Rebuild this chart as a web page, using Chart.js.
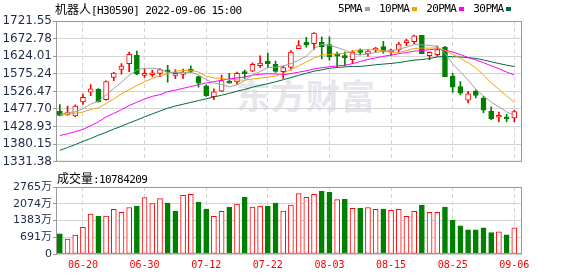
<!DOCTYPE html>
<html>
<head>
<meta charset="utf-8">
<script src="https://cdn.jsdelivr.net/npm/chart.js@4"></script>
<style>
  body { margin: 0; width: 578px; height: 276px; background: #fff; position: relative; overflow: hidden; }
  canvas { position: absolute; left: 0; z-index: 1; }
  #priceChart { top: 0; }
  #volChart { top: 170px; }
  .txt { position: absolute; z-index: 2; white-space: nowrap; color: #000;
         font-family: "DejaVu Sans Mono", monospace; font-size: 11px; letter-spacing: -0.6px; line-height: 14px; }
  .cjk { font-family: "Noto Sans CJK SC", sans-serif; font-size: 12px; letter-spacing: 0; }
  .legend { display: flex; align-items: center; }
  .legend i { display: inline-block; width: 5px; height: 4px; margin: 0 9px 0 3px; }
  #watermark { position: absolute; left: 236px; top: 70px; z-index: 0; color: #e6e6ec;
               font-family: "Noto Sans CJK SC", sans-serif; font-weight: bold; font-size: 34px; letter-spacing: 1px; }
</style>
</head>
<body>
<div id="watermark">东方财富</div>
<canvas id="priceChart" width="578" height="170"></canvas>
<canvas id="volChart" width="578" height="106"></canvas>
<div class="txt" style="left:55px;top:2px"><span class="cjk">机器人</span>[H30590] 2022-09-06 15:00</div>
<div class="txt legend" id="legend" style="left:338px;top:2px"></div>
<div class="txt" style="left:57px;top:171px"><span class="cjk">成交量</span>:10784209</div>
<script>
const dates = ['06-15','06-16','06-17','06-20','06-21','06-22','06-23','06-24','06-27','06-28',
  '06-29','06-30','07-01','07-04','07-05','07-06','07-07','07-08','07-11','07-12',
  '07-13','07-14','07-15','07-18','07-19','07-20','07-21','07-22','07-25','07-26',
  '07-27','07-28','07-29','08-01','08-02','08-03','08-04','08-05','08-08','08-09',
  '08-10','08-11','08-12','08-15','08-16','08-17','08-18','08-19','08-22','08-23',
  '08-24','08-25','08-26','08-29','08-30','08-31','09-01','09-02','09-05','09-06'];
const tickDates = ['06-20','06-30','07-12','07-22','08-03','08-15','08-25','09-06'];

const opens = [1471.1,1462.0,1458.4,1497.4,1524.6,1531.9,1503.8,1565.4,1587.2,1603.5,
  1626.2,1570.9,1572.7,1576.3,1584.5,1571.0,1573.5,1587.2,1567.2,1541.8,
  1511.9,1527.3,1553.6,1552.7,1580.8,1582.7,1598.1,1610.8,1601.7,1580.8,
  1592.6,1645.2,1662.5,1658.8,1662.5,1656.1,1626.0,1623.5,1614.4,1638.0,
  1630.7,1640.7,1650.7,1636.2,1641.6,1661.6,1664.3,1681.5,1625.3,1628.0,
  1648.9,1569.0,1540.0,1501.9,1526.4,1507.4,1472.0,1454.8,1453.9,1453.0];
const highs = [1490.1,1485.6,1489.2,1519.2,1545.5,1534.6,1555.5,1579.0,1603.5,1635.3,
  1638.0,1589.9,1585.4,1589.9,1599.0,1587.2,1588.0,1597.2,1569.0,1544.6,
  1533.7,1571.8,1576.3,1580.0,1585.4,1605.3,1625.3,1632.5,1610.8,1596.3,
  1639.8,1667.0,1676.1,1689.7,1677.9,1677.9,1635.3,1635.3,1639.8,1644.3,
  1641.6,1648.9,1665.2,1643.4,1662.5,1670.6,1682.4,1681.5,1636.2,1652.5,
  1651.6,1576.3,1553.6,1526.4,1531.0,1512.8,1483.8,1469.3,1462.9,1474.7];
const lows = [1458.4,1460.2,1455.7,1490.2,1514.6,1496.5,1502.0,1556.4,1574.5,1580.8,
  1573.0,1565.4,1567.2,1567.2,1551.8,1561.8,1562.7,1578.1,1538.2,1512.8,
  1503.8,1525.5,1549.1,1545.5,1562.7,1580.8,1592.6,1591.7,1579.0,1562.7,
  1585.4,1645.2,1648.9,1642.5,1616.2,1612.6,1594.4,1597.2,1603.5,1628.9,
  1623.5,1633.5,1632.5,1626.2,1635.3,1653.4,1657.9,1630.7,1614.4,1623.5,
  1567.2,1523.7,1517.4,1494.7,1508.3,1467.5,1448.4,1442.1,1442.1,1442.1];
const closes = [1460.2,1467.5,1485.6,1510.1,1533.7,1498.3,1553.6,1577.2,1596.3,1628.9,
  1574.5,1575.0,1578.1,1587.2,1580.0,1573.0,1575.5,1581.8,1549.1,1514.6,
  1525.5,1556.4,1549.1,1576.3,1575.5,1601.7,1605.0,1603.5,1581.8,1592.6,
  1635.3,1653.4,1656.1,1687.9,1650.7,1621.7,1624.0,1619.9,1635.3,1634.8,
  1638.0,1643.4,1637.1,1639.8,1657.9,1667.0,1680.6,1630.7,1634.4,1642.5,
  1567.2,1538.2,1521.9,1520.0,1515.5,1474.7,1451.1,1456.6,1450.2,1470.2];

// volume in 万
const volumes = [831,613,776,1103,1648,1566,1566,1839,1716,1920,
  1975,2329,2084,2288,2098,1771,2424,2465,2138,1852,
  1553,1757,1934,2057,2343,1934,1975,1975,2098,1771,
  2016,2493,2343,2465,2588,2547,2247,2261,1880,1893,
  1920,1839,1852,1798,1839,1553,1757,2016,1716,1716,
  1934,1403,1158,994,994,1076,885,913,790,1078];

const ma5 = [1463.0,1467.0,1470.0,1478.0,1491.4,1499.0,1516.3,1534.6,1551.8,1570.9,
  1586.1,1590.4,1590.6,1588.7,1579.0,1578.6,1578.7,1579.5,1571.9,1558.9,
  1549.6,1545.5,1538.9,1544.4,1556.6,1571.8,1581.5,1592.4,1593.5,1596.9,
  1603.6,1613.3,1623.8,1645.1,1656.7,1654.0,1648.1,1640.8,1630.3,1627.1,
  1630.4,1634.3,1637.7,1638.6,1643.2,1649.0,1656.5,1655.2,1654.1,1651.0,
  1631.1,1602.6,1580.8,1558.0,1532.6,1514.1,1496.6,1483.6,1469.6,1460.6];
const ma10 = [1458.4,1463.0,1465.7,1469.3,1476.5,1481.0,1492.9,1505.6,1520.0,1531.1,
  1542.6,1553.3,1562.6,1570.3,1574.9,1582.4,1584.5,1585.0,1580.3,1568.9,
  1564.0,1562.1,1559.2,1558.1,1557.7,1560.6,1563.5,1565.7,1568.9,1576.7,
  1587.7,1597.4,1608.1,1619.3,1626.8,1628.8,1630.7,1632.3,1637.7,1641.9,
  1642.2,1641.2,1639.3,1634.5,1635.2,1639.7,1645.4,1646.5,1646.4,1647.1,
  1640.1,1629.5,1618.0,1606.0,1591.8,1572.6,1549.6,1532.2,1513.8,1496.6];
const ma20 = [1404.0,1409.4,1414.9,1421.2,1431.2,1442.1,1455.7,1465.7,1475.6,1487.4,
  1496.5,1505.6,1512.8,1517.4,1525.5,1530.0,1535.0,1540.0,1545.0,1550.0,
  1553.2,1557.7,1560.8,1564.1,1566.2,1571.4,1574.0,1575.3,1574.6,1572.8,
  1575.8,1579.7,1583.6,1588.6,1592.2,1594.7,1597.1,1599.0,1603.3,1609.3,
  1615.0,1619.3,1623.7,1626.9,1631.0,1634.3,1638.0,1639.4,1642.0,1644.5,
  1641.1,1635.4,1628.7,1620.3,1613.5,1606.1,1597.5,1589.3,1580.1,1571.9];
const ma30 = [1363,1371,1379,1388,1396,1405,1413,1422,1430,1439,
  1447,1456,1464,1472,1480,1486,1491,1496,1501,1506,
  1511,1516,1521,1527,1532,1538,1543,1548,1553,1558.9,
  1564.7,1570.9,1576.6,1582.5,1586.4,1590.5,1592.9,1594.3,1595.6,1595.8,
  1597.9,1600.2,1602.2,1603.9,1606.5,1609.7,1613.2,1614.8,1617.7,1621.9,
  1623.3,1622.7,1621.8,1619.9,1617.9,1613.7,1608.6,1603.7,1599.3,1595.2];

const priceTicks = [1331.38,1380.15,1428.93,1477.70,1526.47,1575.24,1624.01,1672.78,1721.55];
const volTicks = [0,691,1383,2074,2765];

const maNames = ['5PMA','10PMA','20PMA','30PMA'];
const maSeries = [ma5, ma10, ma20, ma30];
const maColors = ['#a0a0a0','#f5a30a','#ff00ff','#006b38'];

const RED = '#ff0000';
const GREEN = '#008000';
const GRID = '#d4d4d4';
const FRAME = '#9a9a9a';

const idx = dates.map((d, i) => i);
const tickIndex = tickDates.map(d => dates.indexOf(d));
const isUp = i => closes[i] >= opens[i];
const volUp = i => i === 0 ? isUp(0) : closes[i] >= closes[i - 1];

// legend: name then colour swatch
document.getElementById('legend').innerHTML = maNames.map((n, k) =>
  `<span>${n}</span><i style="background:${maColors[k]}"></i>`).join('');

const framePlugin = {
  id: 'frame',
  afterDraw(chart) {
    const { ctx, chartArea: a } = chart;
    ctx.save();
    ctx.strokeStyle = FRAME;
    ctx.lineWidth = 1;
    ctx.strokeRect(a.left + 0.5, a.top + 0.5, a.right - a.left - 1, a.bottom - a.top - 1);
    ctx.restore();
  }
};

function xScale(showLabels) {
  return {
    type: 'linear',
    bounds: 'data',
    min: -0.5,
    max: dates.length,
    offset: false,
    afterBuildTicks: s => { s.ticks = tickIndex.map(v => ({ value: v })); },
    afterFit: s => { s.height = showLabels ? 22 : 0; },
    grid: { color: GRID, drawTicks: false, offset: false },
    border: { display: false, dash: [4, 3] },
    ticks: {
      display: showLabels, autoSkip: false, maxRotation: 0, padding: 5, color: RED,
      font: { family: '"DejaVu Sans Mono", monospace', size: 10 },
      callback: v => dates[v]
    }
  };
}

function yScale(ticks, fmt, size) {
  return {
    bounds: 'data',
    min: ticks[0],
    max: ticks[ticks.length - 1],
    afterBuildTicks: s => { s.ticks = ticks.map(v => ({ value: v })); },
    afterFit: s => { s.width = 56; },
    grid: { color: GRID, tickColor: FRAME, tickLength: 3 },
    border: { color: FRAME },
    ticks: {
      padding: 1, color: '#1d2b47',
      font: { family: '"DejaVu Sans", "Noto Sans CJK SC", sans-serif', size },
      callback: fmt
    }
  };
}

const common = {
  responsive: false,
  animation: false,
  events: [],
  plugins: { legend: { display: false }, tooltip: { enabled: false } }
};

new Chart(document.getElementById('priceChart'), {
  type: 'bar',
  data: {
    datasets: [
      ...maSeries.map((s, k) => ({
        type: 'line',
        data: s.map((v, i) => ({ x: i, y: v })),
        borderColor: maColors[k],
        borderWidth: 1,
        pointRadius: 0,
        tension: 0,
        order: 0
      })),
      {
        data: idx.map(i => ({ x: i, y: [opens[i], closes[i]] })),
        backgroundColor: idx.map(i => isUp(i) ? '#ffffff' : GREEN),
        borderColor: idx.map(i => isUp(i) ? RED : GREEN),
        borderWidth: 1,
        borderSkipped: false,
        barThickness: 5,
        minBarLength: 2,
        grouped: false,
        order: 1
      },
      {
        data: idx.map(i => ({ x: i, y: [lows[i], highs[i]] })),
        backgroundColor: idx.map(i => isUp(i) ? RED : GREEN),
        barThickness: 1,
        grouped: false,
        order: 2
      }
    ]
  },
  options: {
    ...common,
    layout: { padding: { top: 21, bottom: 5, right: 56, left: 0 } },
    scales: {
      x: xScale(false),
      y: yScale(priceTicks, v => v.toFixed(2), 12)
    }
  },
  plugins: [framePlugin]
});

new Chart(document.getElementById('volChart'), {
  type: 'bar',
  data: {
    datasets: [{
      data: idx.map(i => ({ x: i, y: volumes[i] })),
      backgroundColor: idx.map(i => volUp(i) ? '#ffffff' : GREEN),
      borderColor: idx.map(i => volUp(i) ? RED : GREEN),
      borderWidth: 1,
      borderSkipped: false,
      barThickness: 5,
      grouped: false
    }]
  },
  options: {
    ...common,
    layout: { padding: { top: 17, bottom: 0, right: 56, left: 0 } },
    scales: {
      x: xScale(true),
      y: yScale(volTicks, v => v === 0 ? '0' : v + '万', 11)
    }
  },
  plugins: [framePlugin]
});
</script>
</body>
</html>
